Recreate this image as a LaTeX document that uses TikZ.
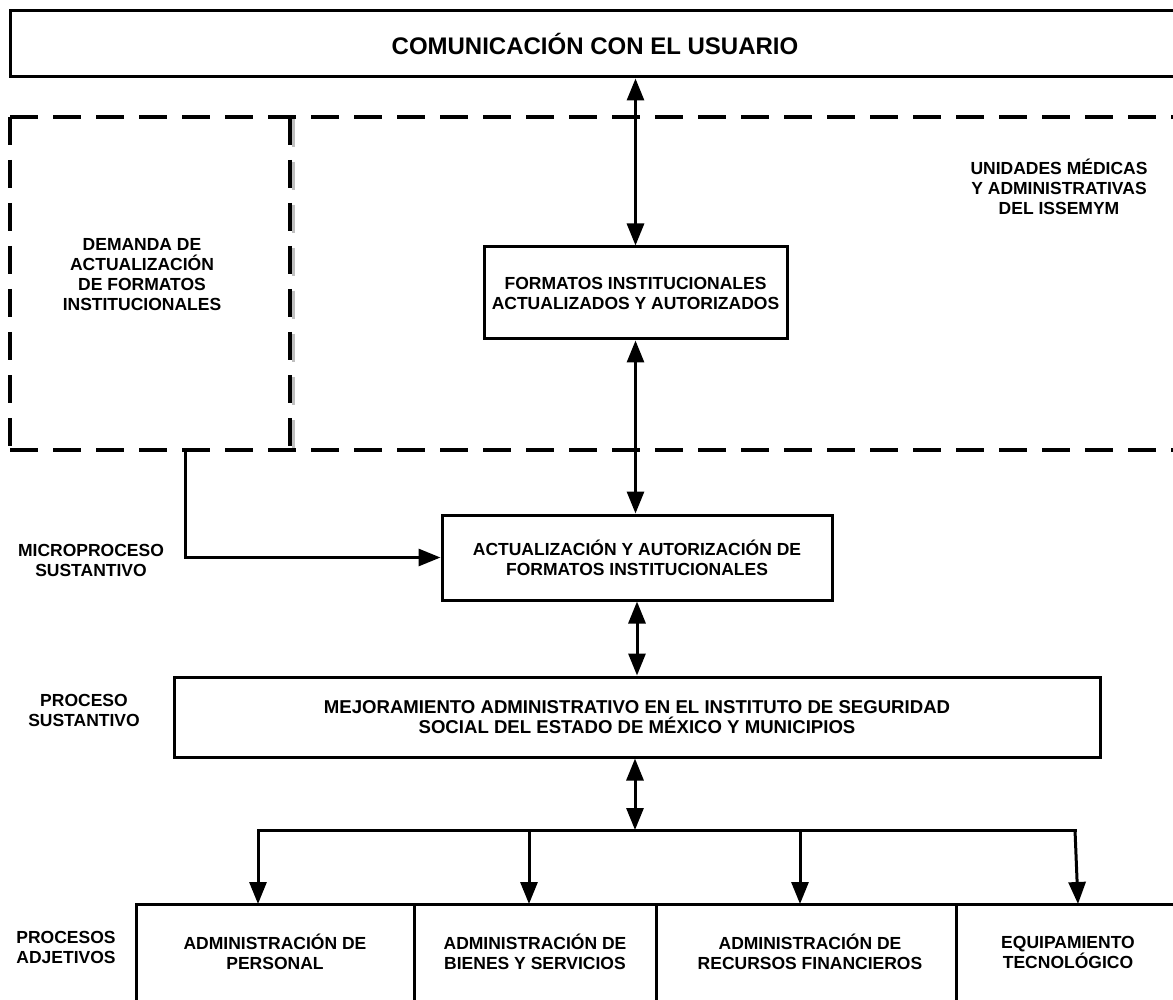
\documentclass[tikz,border=0pt]{standalone}
\usepackage{fontspec}
\setmainfont{Liberation Sans}
\usetikzlibrary{arrows.meta}
\begin{document}
\begin{tikzpicture}[x=1pt,y=-1pt,
  every node/.style={font=\bfseries\fontsize{17.5}{20}\selectfont, align=center, inner sep=0pt},
  box/.style={draw, line width=3pt, rectangle},
  conn/.style={line width=3pt, -{Triangle[length=22pt,width=17pt]}},
  dconn/.style={line width=3pt, {Triangle[length=22pt,width=17pt]}-{Triangle[length=22pt,width=17pt]}},
  dl/.style={line width=3.5pt, dash pattern=on 28pt off 15pt},
  shadowline/.style={line width=3pt, dash pattern=on 28pt off 15pt, black!25}
]
\useasboundingbox (0,0) rectangle (1173,1000);
\clip (0,0) rectangle (1173,1000);
\fill[white] (0,0) rectangle (1173,1000);

% dashed regions
\draw[dl] (10,117) -- (1190,117);
\draw[dl] (10,450) -- (1190,450);
\draw[dl] (10,117) -- (10,450);
\draw[shadowline] (293,119) -- (293,452);
\draw[dl] (290,117) -- (290,450);

% boxes
\node[box, minimum width=1170, minimum height=66, font=\bfseries\fontsize{24}{28}\selectfont] (top) at (595,44) {COMUNICACIÓN CON EL USUARIO};
\node[box, minimum width=303, minimum height=92] (formatos) at (635.5,293) {FORMATOS INSTITUCIONALES\\ACTUALIZADOS Y AUTORIZADOS};
\node[box, minimum width=390, minimum height=85] (act) at (637,557.5) {ACTUALIZACIÓN Y AUTORIZACIÓN DE\\FORMATOS INSTITUCIONALES};
\node[box, minimum width=926, minimum height=80, font=\bfseries\fontsize{18.6}{20}\selectfont] (mej) at (637,717) {MEJORAMIENTO ADMINISTRATIVO EN EL INSTITUTO DE SEGURIDAD\\SOCIAL DEL ESTADO DE MÉXICO Y MUNICIPIOS};

\node[box, minimum width=278, minimum height=116] (p1) at (275,962) {};
\node[box, minimum width=242, minimum height=116] (p2) at (535,962) {};
\node[box, minimum width=300, minimum height=116] (p3) at (806,962) {};
\node[box, minimum width=224, minimum height=116] (p4) at (1068,962) {};
\node (t1) at (275,952) {ADMINISTRACIÓN DE\\PERSONAL};
\node (t2) at (535,952) {ADMINISTRACIÓN DE\\BIENES Y SERVICIOS};
\node (t3) at (810,952) {ADMINISTRACIÓN DE\\RECURSOS FINANCIEROS};
\node (t4) at (1068,952) {EQUIPAMIENTO\\TECNOLÓGICO};

% side labels
\node (demanda) at (142,275) {DEMANDA DE\\ACTUALIZACIÓN\\DE FORMATOS\\INSTITUCIONALES};
\node (unidades) at (1059,187) {UNIDADES MÉDICAS\\Y ADMINISTRATIVAS\\DEL ISSEMYM};
\node (micro) at (91,560) {MICROPROCESO\\SUSTANTIVO};
\node (proc) at (84,710) {PROCESO\\SUSTANTIVO};
\node (adj) at (66,947) {PROCESOS\\ADJETIVOS};

% connectors
\draw[dconn] (formatos.north) -- (formatos.north |- top.south);
\draw[dconn] (formatos.south) -- (formatos.south |- act.north);
\draw[dconn] (act.south) -- (act.south |- mej.north);

\coordinate (dem) at (185,450);
\draw[conn] (dem) |- (act.west);

\coordinate (bus) at (635,830);
\coordinate (busL) at (258,830);
\coordinate (busB) at (529,830);
\coordinate (busC) at (800,830);
\coordinate (busR) at (1075,830);
\coordinate (a1) at (258,904);
\coordinate (a2) at (529,904);
\coordinate (a3) at (800,904);
\coordinate (a4) at (1078,904);
\draw[dconn] (bus |- mej.south) -- (bus);
\draw[line width=3pt, line cap=rect] (busL) -- (busR);
\draw[conn] (busL) -- (a1);
\draw[conn] (busB) -- (a2);
\draw[conn] (busC) -- (a3);
\draw[conn] (busR) -- (a4);
\end{tikzpicture}
\end{document}
